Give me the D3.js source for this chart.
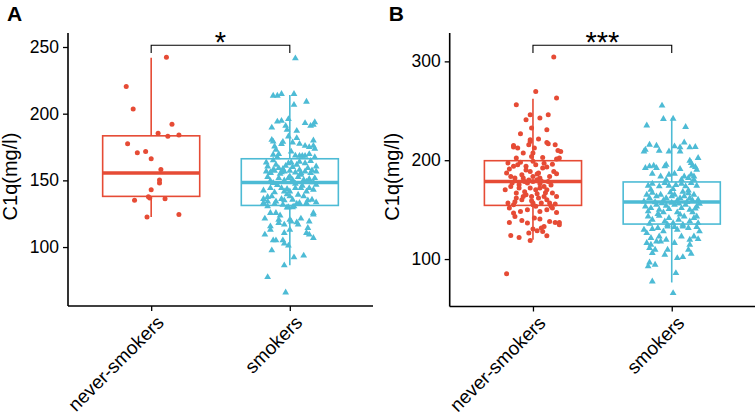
<!DOCTYPE html>
<html>
<head>
<meta charset="utf-8">
<script src="https://cdn.jsdelivr.net/npm/d3@7"></script>
<style>
body { margin: 0; background: #fff; }
svg { display: block; font-family: "Liberation Sans", Arial, sans-serif; }
</style>
</head>
<body>
<script>
var groups = ["never-smokers", "smokers"];
var colors = ["#E64B35", "#4DBBD5"];

// box stats per group: [lower whisker, q1, median, q3, upper whisker]
var boxA = [[122.5, 138, 155.5, 183.4, 242], [86.3, 131.2, 148.4, 166.2, 214.1]];
var boxB = [[119.5, 154.3, 178.5, 199.5, 262.2], [76.3, 135.4, 157.7, 178, 242.7]];

var ticksA = [100, 150, 200, 250],
    ticksB = [100, 200, 300];

var signifA = "*",
    signifB = "***";

// points: [jitter (category units), C1q value]
var neverA = [[0.11,242.3],[-0.18,220.3],[-0.13,203.6],[0.15,192.1],[0.05,185.4],[0.12,183.1],[0.20,184.1],
  [-0.17,177.4],[-0.10,170.7],[-0.04,171.6],[0.00,166.2],[0.07,158.2],[0.06,150.2],[0.06,148],[0.00,143],
  [-0.02,137.7],[-0.01,136.7],[0.10,136.2],[-0.12,135],[0.20,124.5],[-0.03,122.5]];

var smokersA = [[-0.12,213.5],[-0.09,213.5],[-0.06,214.8],[0.03,214.8],[0.12,209],[0.03,206.6],[-0.01,195.9],
  [-0.09,194.1],[-0.06,194.6],[0.11,192.9],[0.18,193.6],[0.17,191.6],[0.15,190.9],[-0.13,189.6],[-0.03,190.9],
  [-0.02,187.9],[0.05,187.1],[-0.13,180.4],[-0.12,179.1],[-0.05,178.9],[-0.06,177.2],[-0.01,182.9],[0.05,181.7],
  [0.02,178.4],[0.07,177.4],[0.11,175.9],[0.14,174.9],[0.17,179.9],[0.17,175.9],[0.18,173.7],[-0.11,175.4],
  [-0.10,172.9],[-0.12,169.2],[-0.08,169.7],[-0.09,167.4],[0.01,171.6],[0.04,168.6],[0.07,168.4],[0.09,168.4],
  [0.11,168.4],[0.14,169.7],[0.18,167.4],[0.04,241.5],
  [-0.17,163.4],[-0.16,160.4],[-0.12,157.9],[-0.10,161.7],[-0.08,159.2],[-0.03,160.9],[-0.01,162.9],[0.01,163.4],
  [0.02,160],[0.05,161.7],[0.07,157.9],[0.11,162.9],[0.13,159.2],[0.16,157.4],[0.19,160.4],[-0.14,155.5],
  [-0.06,156],[0.08,155.5],[-0.17,156.7],[-0.14,155.9],[-0.11,157.2],[-0.07,154.9],[-0.04,156.7],[0,157.2],
  [0.04,155.9],[0.08,154.2],[0.11,156.7],[0.15,155.5],[0.19,156.7],[-0.16,152.5],[-0.08,151.7],[-0.04,150],
  [-0.01,151.7],[0.02,150.4],[0.06,152.5],[0.10,150.4],[0.14,151],[0.18,151.7],[-0.12,148],[0.04,147.5],
  [0.17,148.5],[-0.19,142.4],[-0.14,144.2],[-0.11,141],[-0.06,144.2],[-0.04,141.7],[-0.02,143.5],[0,141.7],
  [0.04,144.2],[0.08,144.2],[0.12,141.7],[0.14,144.2],[0.17,143],[0.19,146.7],[-0.19,136],[-0.16,134.2],
  [-0.13,138],[-0.10,134.2],[-0.06,136],[-0.04,135],[0,138],[0.02,135.5],[0.06,139.2],[0.10,138],[0.13,135],
  [0.16,135.5],[0.19,133.5],[-0.19,133],[-0.11,132.3],[-0.05,131.7],[-0.02,129.7],[0.03,130.5],[0.07,133],
  [0.12,133],[-0.09,146.5],[0.09,146],[-0.14,149.5],[0.12,149],[0,153],[-0.05,158.5],[0.07,164],[-0.12,165],
  [0.15,164.5],[-0.02,139.5],[0.05,132.5],[-0.16,137.5],
  [-0.18,121.3],[-0.14,125.5],[-0.10,125.5],[-0.07,123.7],[-0.08,120.5],[-0.08,118],[-0.04,116.8],[0,120.5],
  [0.01,119.2],[0.05,118.5],[0.06,116.8],[0.08,121.3],[0.14,119.2],[0.17,125.5],[0.17,124.3],[-0.14,115.5],
  [-0.14,113],[-0.18,109.3],[-0.04,110.5],[0,113],[0.12,110.5],[0.14,109.3],[0.17,106.8],[0.13,114.3],
  [-0.12,105],[-0.10,105],[-0.05,105],[-0.04,102.6],[-0.01,101.1],[-0.13,97.5],[0.03,92.3],[0.10,93.6],
  [-0.04,86.3],[-0.16,77.5],[-0.03,65.9],[-0.16,130.5],[-0.01,129.9],[0.02,129.9]];

var neverB = [[0.15,304.5],[0.02,269.6],[0.17,263],[-0.12,256.2],[-0.02,246.1],[-0.05,241],[0.05,242.7],
  [0.11,246.1],[-0.01,232.6],[0.10,230.9],[-0.09,226.8],[-0.02,220.7],[-0.02,219],[-0.03,215.7],[0.04,221.5],
  [0.10,218],[0.11,216.7],[-0.14,215],[-0.14,213.4],[-0.11,212.3],[-0.07,207.3],[0.01,212.3],[0,207.3],
  [0.16,215.7],[0.18,209.9],[0.20,208.9],[-0.12,202.2],[-0.01,203.8],[0.07,202.8],[0.17,201.2],[0.19,202.2],
  [-0.18,197.2],[-0.14,193.8],[-0.19,187],[-0.16,183.6],[-0.11,195.5],[-0.08,185.3],[-0.05,193.8],[-0.02,188.7],
  [0.02,195.5],[0.04,187],[0.07,192.1],[0.10,193.1],[0.12,183.6],[0.15,188.7],[0.17,186.3],[-0.07,182],
  [0,183.6],[0.05,182],[-0.13,182],[-0.17,191.1],
  [-0.20,170.1],[-0.16,173.5],[-0.10,175.2],[-0.06,178.5],[-0.04,176.9],[0,178.5],[0.03,180.3],[0.05,176.2],
  [0.08,173.5],[0.11,178.5],[0.14,166.8],[-0.12,166.8],[-0.02,171.9],[0.02,170.1],[-0.07,163.4],[-0.10,171.9],
  [0.10,170.1],[-0.18,156.7],[-0.14,155],[-0.08,160],[-0.05,165.1],[0,156.7],[0.04,161.7],[0.06,156.7],
  [0.12,156.7],[0.16,155.7],[0.17,163.4],[-0.12,161.7],[-0.01,163.4],[0.03,166.1],[0.08,163.4],
  [-0.09,198],[0.08,197],[-0.03,180],[0.06,179],[-0.15,177],[0.13,175],[-0.06,168],[0.09,167],[-0.01,159],
  [0.1,160],[-0.13,158],[0.03,186],[-0.05,190],[0.14,196],[0.00,199],[0.05,172],
  [-0.17,151.6],[-0.14,146.6],[-0.09,148.2],[-0.04,149.9],[0,155],[0.02,153.3],[0.05,148.2],[0.10,149.9],
  [0.13,153.3],[0.17,147.2],[0.14,151.6],[-0.17,137],[-0.13,143.1],[-0.08,139.1],[-0.04,136.4],[0.01,141.5],
  [0.05,140.5],[0.08,133],[0.12,138.1],[0.16,137],[0.19,137],[0.19,134.7],[-0.16,123.9],[-0.10,121.9],
  [-0.03,126.3],[0,130.4],[0.03,128.6],[0.07,128],[0.10,123.6],[-0.02,118.8],[0.06,131.4],[-0.19,85.1]];

var smokersB = [[-0.07,255.2],[-0.06,241.7],[0.01,242],[-0.18,235.2],[0.10,233.6],[-0.16,215.7],[-0.19,210.6],
  [-0.20,208.9],[-0.11,214.7],[-0.09,209.6],[-0.02,208.9],[0.02,214],[0.06,213],[0.06,208.9],[0.09,218],
  [0.13,213],[0.17,213.4],[-0.19,192.1],[-0.16,193.8],[-0.13,194.4],[-0.11,192.1],[-0.05,193.8],[-0.04,195.4],
  [0.06,191.1],[0.13,199.5],[0.14,197.2],[0.15,194.4],[0.17,193.1],[0.19,202.2],[0.18,190.4],[-0.14,186.3],
  [-0.08,183.6],[-0.02,185.3],[0.02,186.3],[0.09,183.6],[0.12,182],[0.16,183.6],[0.14,185.3],[-0.04,180.3],
  [0.07,180.3],[0.16,180.3],
  [-0.17,174.2],[-0.14,176.2],[-0.09,173.5],[-0.05,176.9],[-0.02,174.2],[0.03,175],[0.07,176.2],[0.10,173.5],
  [0.14,176.9],[0.18,174.2],[-0.15,170.1],[0.01,170.8],[0.12,169.4],[-0.18,165.1],[-0.16,161.7],[-0.11,163.4],
  [-0.08,165.1],[-0.04,161.7],[0,163.4],[0.02,165.1],[0.06,161.7],[0.09,163.4],[0.13,161.7],[0.16,165.1],
  [0.19,160],[-0.20,158.3],[-0.06,159.3],[0.04,159.3],[0.15,159.3],[-0.19,153.2],[-0.15,151.6],[-0.11,155],
  [-0.09,149.9],[-0.04,153.9],[-0.02,150.6],[0.02,155],[0.07,151.6],[0.10,155],[0.13,149.9],[0.18,153.2],
  [0.20,156],[-0.17,148.2],[-0.06,147.2],[0.04,147.2],[0.15,147.2],[-0.17,143.1],[-0.14,139.8],[-0.09,143.8],
  [-0.05,138.1],[-0.02,141.5],[0.01,136.4],[0.05,139.8],[0.09,143.1],[0.13,138.1],[0.16,141.5],[0.19,136.4],
  [-0.16,135.7],[-0.03,134.7],[0.08,134.7],[0.18,143.1],[-0.12,157.5],[-0.07,156.5],[0.0,157],[0.05,156.2],
  [0.11,157.8],[-0.01,167.5],[0.08,168],[-0.1,145.5],[0.06,145],[0.12,166.5],[-0.14,167],[0.17,151],
  [-0.20,129.7],[-0.18,126.3],[-0.14,130.4],[-0.10,131.4],[-0.06,128],[-0.03,133],[0.02,132.4],[0.04,129.7],
  [0.08,133],[0.12,131.4],[0.18,132.4],[0.20,128],[-0.09,122.9],[-0.15,121.3],[-0.18,116.2],[-0.15,114.5],
  [-0.11,117.8],[-0.08,117.8],[-0.04,119.6],[0.02,116.2],[0.07,122.9],[0.13,119.6],[0.16,122.9],[0.19,120.2],
  [-0.12,109.4],[-0.16,111.1],[-0.14,106.1],[-0.05,104.4],[-0.03,109.4],[0.04,101],[0.08,102],[0.12,109.4],
  [0.14,105.4],[0.13,114.5],[-0.16,96.6],[-0.12,94.2],[-0.17,92.6],[0.03,85.8],[-0.14,77.3],[0.01,65.6]];

var W = 756, H = 416;

var svg = d3.select("body").append("svg")
    .attr("width", W)
    .attr("height", H);

var panels = [
  {tag: "A", left: 68, right: 373, top: 33, bottom: 306, domain: [55.8, 260.5], ticks: ticksA,
   box: boxA, pts: [neverA, smokersA], signif: signifA},
  {tag: "B", left: 449.7, right: 755, top: 33, bottom: 306.5, domain: [52, 328.7], ticks: ticksB,
   box: boxB, pts: [neverB, smokersB], signif: signifB}
];

var tri = d3.symbol().type(d3.symbolTriangle).size(20);

panels.forEach(function(p) {
  var g = svg.append("g");

  var x = d3.scalePoint().domain(groups).range([p.left, p.right]).padding(0.6),
      y = d3.scaleLinear().domain(p.domain).range([p.bottom, p.top]);
  var step = x.step(),
      half = step * 0.35;

  // boxes
  groups.forEach(function(grp, i) {
    var b = p.box[i], cx = x(grp), c = colors[i];
    var bg = g.append("g").attr("stroke", c).attr("fill", "none");
    bg.append("line").attr("x1", cx).attr("x2", cx).attr("y1", y(b[3])).attr("y2", y(b[4])).attr("stroke-width", 1.6);
    bg.append("line").attr("x1", cx).attr("x2", cx).attr("y1", y(b[0])).attr("y2", y(b[1])).attr("stroke-width", 1.6);
    bg.append("rect")
        .attr("x", cx - half).attr("width", half * 2)
        .attr("y", y(b[3])).attr("height", y(b[1]) - y(b[3]))
        .attr("stroke-width", 1.6);
    bg.append("line").attr("x1", cx - half).attr("x2", cx + half)
        .attr("y1", y(b[2])).attr("y2", y(b[2])).attr("stroke-width", 3.4);
  });

  // jittered points
  g.selectAll(".dot")
      .data(p.pts[0])
    .enter().append("circle")
      .attr("cx", function(d) { return x(groups[0]) + d[0] * step; })
      .attr("cy", function(d) { return y(d[1]); })
      .attr("r", 2.5)
      .attr("fill", colors[0]);

  g.selectAll(".tri")
      .data(p.pts[1])
    .enter().append("path")
      .attr("d", tri)
      .attr("transform", function(d) { return "translate(" + (x(groups[1]) + d[0] * step) + "," + y(d[1]) + ")"; })
      .attr("fill", colors[1]);

  // axes
  var ya = g.append("g")
      .attr("transform", "translate(" + p.left + ",0)")
      .call(d3.axisLeft(y).tickValues(p.ticks).tickSize(5).tickPadding(4));
  ya.select(".domain").attr("d", "M0," + p.top + "V" + p.bottom).attr("stroke-width", 1.6);
  ya.selectAll(".tick line").attr("stroke-width", 1.3);
  ya.selectAll(".tick text").attr("font-size", 17.5).attr("fill", "#000").attr("font-family", "Liberation Sans, Arial, sans-serif");

  var xa = g.append("g")
      .attr("transform", "translate(0," + p.bottom + ")")
      .call(d3.axisBottom(x).tickSize(5).tickFormat(""));
  xa.select(".domain").attr("d", "M" + p.left + ",0H" + p.right).attr("stroke-width", 1.6);
  xa.selectAll(".tick line").attr("stroke-width", 1.3);

  groups.forEach(function(grp) {
    g.append("text")
        .attr("transform", "translate(" + (x(grp) + 4) + "," + (p.bottom + 8) + ") rotate(-45)")
        .attr("text-anchor", "end")
        .attr("dy", "0.72em")
        .attr("font-size", 19)
        .text(grp);
  });

  // y title
  g.append("text")
      .attr("transform", "translate(" + (p.left - 51) + "," + ((p.top + p.bottom) / 2 + 7) + ") rotate(-90)")
      .attr("text-anchor", "middle")
      .attr("font-size", 20)
      .text("C1q(mg/l)");

  // panel tag
  g.append("text")
      .attr("x", p.left - 61)
      .attr("y", 21)
      .attr("font-size", 21)
      .attr("font-weight", "bold")
      .text(p.tag);

  // significance bracket
  var x0 = x(groups[0]), x1 = x(groups[1]);
  g.append("path")
      .attr("d", "M" + x0 + ",53V45.3H" + x1 + "V53")
      .attr("fill", "none")
      .attr("stroke", "#000")
      .attr("stroke-width", 1.1);
  g.append("text")
      .attr("x", (x0 + x1) / 2)
      .attr("y", 52)
      .attr("text-anchor", "middle")
      .attr("font-size", 29)
      .text(p.signif);
});
</script>
</body>
</html>
